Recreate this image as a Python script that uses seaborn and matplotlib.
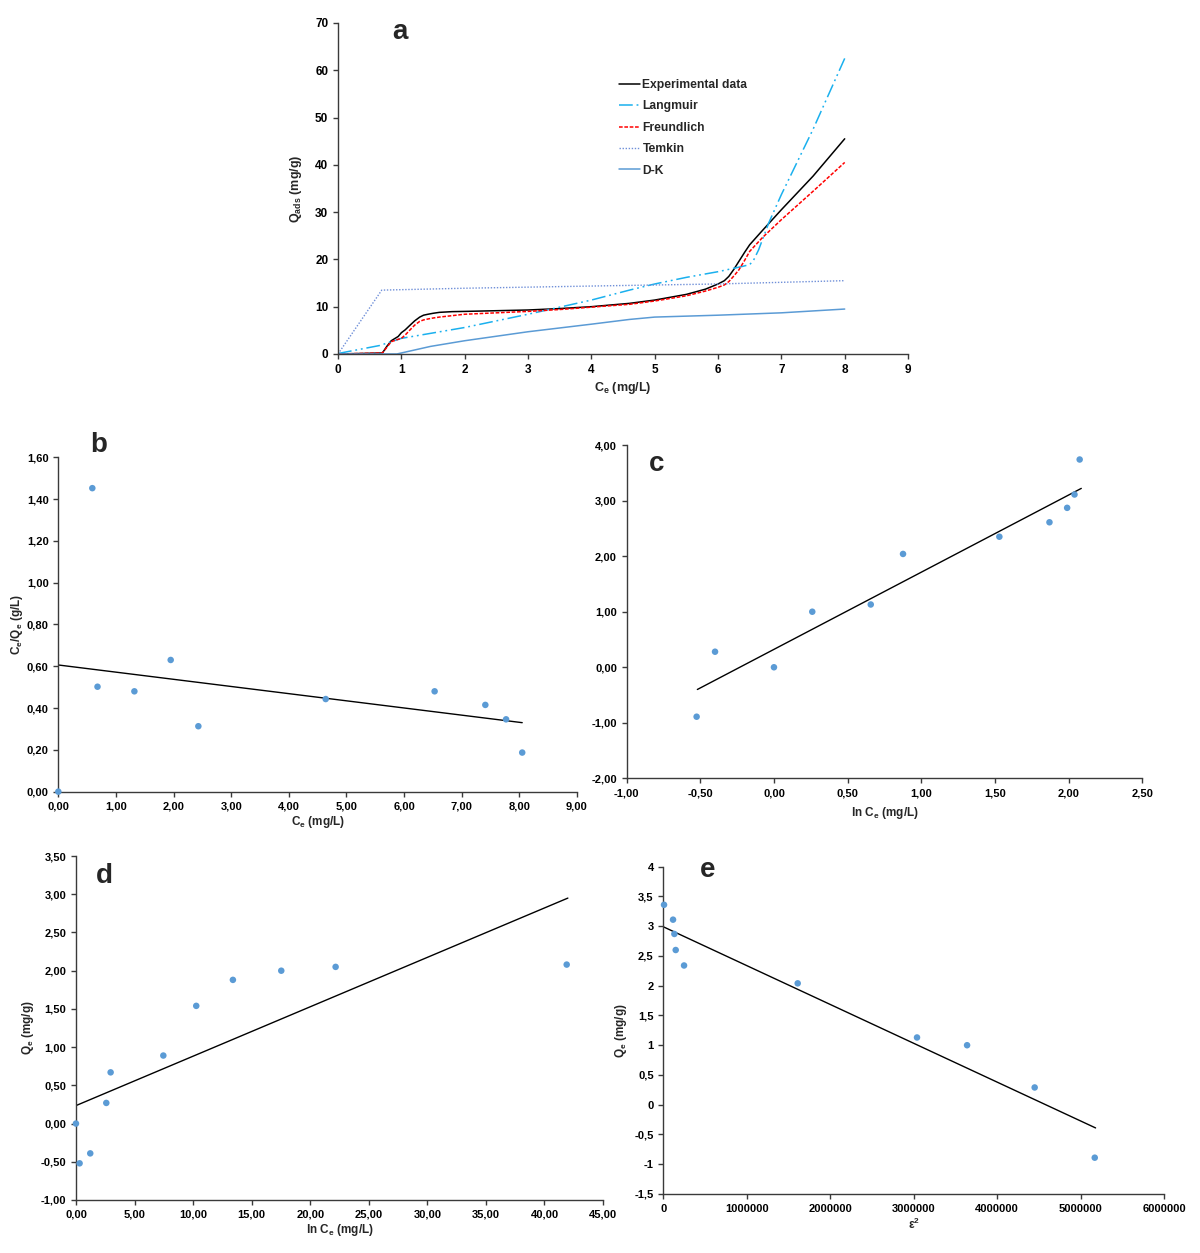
import numpy as np
import pandas as pd
import matplotlib
matplotlib.use("Agg")
import matplotlib.pyplot as plt
from matplotlib.ticker import FuncFormatter, MultipleLocator
import seaborn as sns

# ---- panel a: isotherm curves (Ce vs Qads)
a_ce = [0, 0.7, 0.77, 0.84, 0.95, 1.0, 1.06, 1.13, 1.21, 1.29, 1.35, 1.42, 1.5, 1.6, 1.8, 2.0, 2.5, 3.0, 3.5, 4.0, 4.6, 5.0, 5.5, 5.8, 6.0, 6.1, 6.17, 6.25, 6.33, 6.42, 6.5, 6.7, 7.0, 7.5, 8.0]
a_exp = [0, 0.2, 1.6, 2.8, 3.7, 4.5, 5.1, 6.0, 7.0, 7.8, 8.2, 8.4, 8.6, 8.8, 8.95, 9.0, 9.15, 9.3, 9.6, 10.0, 10.7, 11.4, 12.6, 13.7, 14.8, 15.5, 16.4, 17.9, 19.6, 21.5, 23.1, 26.1, 30.5, 37.6, 45.5]
a_freund = [0, 0.2, 1.4, 2.6, 3.1, 3.3, 4.0, 5.0, 6.1, 6.9, 7.2, 7.4, 7.6, 7.8, 8.1, 8.4, 8.7, 9.0, 9.4, 9.9, 10.5, 11.2, 12.3, 13.3, 14.1, 14.6, 15.3, 16.5, 17.8, 19.8, 21.7, 24.6, 28.4, 34.4, 40.5]

a_ce_lang = [0, 0.66, 1.0, 2.0, 3.0, 4.0, 4.6, 5.0, 5.5, 6.0, 6.38, 6.5, 6.56, 6.64, 6.8, 7.0, 7.5, 8.0]
a_lang = [0.1, 1.8, 3.3, 5.6, 8.4, 11.4, 13.5, 14.8, 16.2, 17.4, 18.5, 18.9, 19.8, 22.0, 27.7, 33.7, 47.5, 62.5]

a_ce_temkin = [0, 0.69, 2.0, 4.6, 6.0, 8.0]
a_temkin = [0, 13.5, 13.9, 14.5, 14.8, 15.5]

a_ce_dk = [0, 0.93, 1.46, 2.0, 3.0, 4.0, 4.6, 5.0, 5.5, 6.0, 7.0, 8.0]
a_dk = [0, 0, 1.6, 2.8, 4.7, 6.3, 7.3, 7.8, 8.0, 8.2, 8.7, 9.5]

# ---- panel b: Langmuir linear form
b_x = [0, 0.59, 0.68, 1.32, 1.95, 2.43, 4.64, 6.53, 7.41, 7.77, 8.05]
b_y = [0, 1.452, 0.502, 0.48, 0.63, 0.313, 0.443, 0.48, 0.415, 0.346, 0.187]
b_fit_x = [0, 8.05]
b_fit_y = [0.606, 0.33]

# ---- panel c: Freundlich linear form
c_x = [-0.525, -0.40, 0.0, 0.26, 0.657, 0.876, 1.53, 1.87, 1.99, 2.04, 2.075]
c_y = [-0.89, 0.28, 0.0, 1.00, 1.13, 2.04, 2.35, 2.61, 2.87, 3.11, 3.74]
c_fit_x = [-0.52, 2.086]
c_fit_y = [-0.40, 3.22]

# ---- panel d: Temkin linear form
d_x = [0, 0.31, 1.22, 2.59, 2.96, 7.46, 10.27, 13.4, 17.53, 22.17, 41.9]
d_y = [0, -0.52, -0.39, 0.27, 0.67, 0.89, 1.54, 1.88, 2.00, 2.05, 2.08]
d_fit_x = [0, 42.0]
d_fit_y = [0.235, 2.95]

# ---- panel e: D-K linear form
e_x = [8000, 116000, 132000, 148000, 248000, 1610000, 3040000, 3640000, 4450000, 5170000]
e_y = [3.36, 3.11, 2.87, 2.60, 2.34, 2.04, 1.13, 1.00, 0.29, -0.89]
e_fit_x = [0, 5180000]
e_fit_y = [2.99, -0.39]

sns.set_style("ticks")
plt.rcParams["font.family"] = ["Liberation Sans", "DejaVu Sans"]
plt.rcParams["font.weight"] = "bold"
plt.rcParams["mathtext.fontset"] = "custom"
plt.rcParams["mathtext.bf"] = "Liberation Sans:bold"
plt.rcParams["mathtext.rm"] = "Liberation Sans:bold"
plt.rcParams["mathtext.default"] = "bf"

SPINE = "#3a3a3a"
DOT = "#5B9BD5"

fig = plt.figure(figsize=(12, 12.53), dpi=100)


def style_axes(ax, tick_size):
    sns.despine(ax=ax)
    for s in ["left", "bottom"]:
        ax.spines[s].set_color(SPINE)
        ax.spines[s].set_linewidth(1.0)
    ax.tick_params(axis="both", colors=SPINE, labelcolor="black", labelsize=tick_size,
                   length=3.5, width=1.0, direction="out")
    for lab in ax.get_xticklabels() + ax.get_yticklabels():
        lab.set_fontweight("bold")


comma2 = FuncFormatter(lambda v, p: f"{v:.2f}".replace(".", ","))

# ---------------- panel a
ax = fig.add_axes([0.2817, 0.7175, 0.475, 0.2642])
sns.lineplot(x=a_ce, y=a_exp, ax=ax, color="black", lw=1.1, label="Experimental data", sort=False)
sns.lineplot(x=a_ce_lang, y=a_lang, ax=ax, color="#1AB0EE", lw=1.1, label="Langmuir", sort=False)
sns.lineplot(x=a_ce, y=a_freund, ax=ax, color="#FF0000", lw=1.1, label="Freundlich", sort=False)
sns.lineplot(x=a_ce_temkin, y=a_temkin, ax=ax, color="#6F8FD8", lw=1.0, label="Temkin", sort=False)
sns.lineplot(x=a_ce_dk, y=a_dk, ax=ax, color=DOT, lw=1.1, label="D-K", sort=False)
ax.lines[1].set_dashes([9, 2.5, 1.2, 2.5, 1.2, 2.5])
ax.lines[2].set_dashes([2.4, 1.1])
ax.lines[3].set_dashes([1, 1.2])
ax.set_xlim(0, 9)
ax.set_ylim(0, 70)
ax.xaxis.set_major_locator(MultipleLocator(1))
ax.yaxis.set_major_locator(MultipleLocator(10))
ax.set_xlabel(r"C$_{e}$ (mg/L)", fontsize=9, fontweight="bold", labelpad=3)
ax.set_ylabel(r"Q$_{ads}$ (mg/g)", fontsize=9, fontweight="bold", labelpad=8)
style_axes(ax, 8.5)
leg = ax.legend(loc="upper left", bbox_to_anchor=(0.482, 0.849), frameon=False,
                borderpad=0, handlelength=1.75, handletextpad=0.2, labelspacing=0.78,
                prop={"size": 8.7, "weight": "bold"})
ax.text(0.109, 0.973, "a", transform=ax.transAxes, fontsize=20, fontweight="bold",
        ha="center", va="center")

# ---------------- panel b
ax = fig.add_axes([0.0486, 0.3682, 0.4322, 0.2669])
sns.scatterplot(x=b_x, y=b_y, ax=ax, color=DOT, s=22, edgecolor="none", zorder=3, clip_on=False)
sns.lineplot(x=b_fit_x, y=b_fit_y, ax=ax, color="black", lw=1.0)
ax.set_xlim(0, 9)
ax.set_ylim(0, 1.6)
ax.xaxis.set_major_locator(MultipleLocator(1))
ax.yaxis.set_major_locator(MultipleLocator(0.2))
ax.xaxis.set_major_formatter(comma2)
ax.yaxis.set_major_formatter(comma2)
ax.set_xlabel(r"C$_{e}$ (mg/L)", fontsize=8.5, fontweight="bold", labelpad=2)
ax.set_ylabel(r"C$_{e}$/Q$_{e}$ (g/L)", fontsize=8.5, fontweight="bold", labelpad=1)
style_axes(ax, 8)
ax.text(0.078, 1.037, "b", transform=ax.transAxes, fontsize=20, fontweight="bold",
        ha="center", va="center")

# ---------------- panel c
ax = fig.add_axes([0.5222, 0.3788, 0.4297, 0.266])
sns.scatterplot(x=c_x, y=c_y, ax=ax, color=DOT, s=22, edgecolor="none", zorder=3, clip_on=False)
sns.lineplot(x=c_fit_x, y=c_fit_y, ax=ax, color="black", lw=1.0)
ax.set_xlim(-1, 2.5)
ax.set_ylim(-2, 4)
ax.xaxis.set_major_locator(MultipleLocator(0.5))
ax.yaxis.set_major_locator(MultipleLocator(1))
ax.xaxis.set_major_formatter(comma2)
ax.yaxis.set_major_formatter(comma2)
ax.set_xlabel(r"ln C$_{e}$ (mg/L)", fontsize=8.5, fontweight="bold", labelpad=5)
style_axes(ax, 8)
ax.text(0.059, 0.943, "c", transform=ax.transAxes, fontsize=20, fontweight="bold",
        ha="center", va="center")

# ---------------- panel d
ax = fig.add_axes([0.0633, 0.0423, 0.4392, 0.2745])
sns.scatterplot(x=d_x, y=d_y, ax=ax, color=DOT, s=22, edgecolor="none", zorder=3, clip_on=False)
sns.lineplot(x=d_fit_x, y=d_fit_y, ax=ax, color="black", lw=1.0)
ax.set_xlim(0, 45)
ax.set_ylim(-1, 3.5)
ax.xaxis.set_major_locator(MultipleLocator(5))
ax.yaxis.set_major_locator(MultipleLocator(0.5))
ax.xaxis.set_major_formatter(comma2)
ax.yaxis.set_major_formatter(comma2)
ax.set_xlabel(r"ln C$_{e}$ (mg/L)", fontsize=8.5, fontweight="bold", labelpad=2)
ax.set_ylabel(r"Q$_{e}$ (mg/g)", fontsize=8.5, fontweight="bold", labelpad=3)
style_axes(ax, 8)
ax.text(0.053, 0.942, "d", transform=ax.transAxes, fontsize=20, fontweight="bold",
        ha="center", va="center")

# ---------------- panel e
ax = fig.add_axes([0.5528, 0.0471, 0.4172, 0.2612])
sns.scatterplot(x=e_x, y=e_y, ax=ax, color=DOT, s=22, edgecolor="none", zorder=3, clip_on=False)
sns.lineplot(x=e_fit_x, y=e_fit_y, ax=ax, color="black", lw=1.0)
ax.set_xlim(0, 6000000)
ax.set_ylim(-1.5, 4)
ax.xaxis.set_major_locator(MultipleLocator(1000000))
ax.yaxis.set_major_locator(MultipleLocator(0.5))
ax.xaxis.set_major_formatter(FuncFormatter(lambda v, p: f"{int(round(v))}"))
ax.yaxis.set_major_formatter(FuncFormatter(lambda v, p: f"{v:g}".replace(".", ",")))
ax.set_xlabel("ε$^{2}$", fontsize=8.5, fontweight="bold", labelpad=2)
ax.set_ylabel(r"Q$_{e}$ (mg/g)", fontsize=8.5, fontweight="bold", labelpad=4)
style_axes(ax, 8)
ax.text(0.089, 0.99, "e", transform=ax.transAxes, fontsize=20, fontweight="bold",
        ha="center", va="center")

fig.savefig("out.png", dpi=100, facecolor="white")
